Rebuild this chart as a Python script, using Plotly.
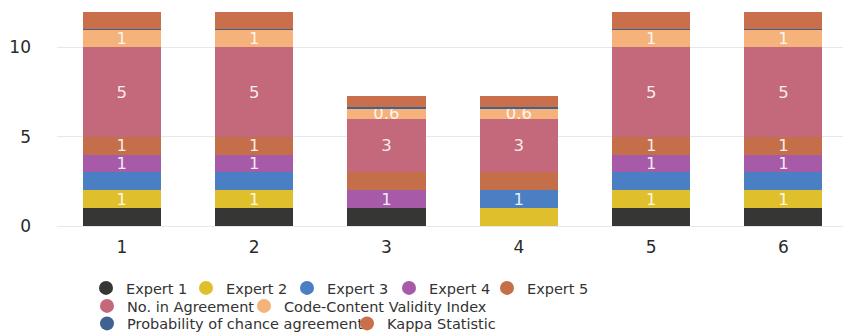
import plotly.graph_objects as go

categories = ["1", "2", "3", "4", "5", "6"]

series_names = ["Expert 1", "Expert 2", "Expert 3", "Expert 4", "Expert 5",
                "No. in Agreement", "Code-Content Validity Index",
                "Probability of chance agreement", "Kappa Statistic"]

expert1 = [1, 1, 1, 0, 1, 1]
expert2 = [1, 1, 0, 1, 1, 1]
expert3 = [1, 1, 0, 1, 1, 1]
expert4 = [1, 1, 1, 0, 1, 1]
expert5 = [1, 1, 1, 1, 1, 1]
agreement = [5, 5, 3, 3, 5, 5]
cvi = [1, 1, 0.6, 0.6, 1, 1]
chance = [0.03, 0.03, 0.08, 0.08, 0.03, 0.03]
kappa = [0.97, 0.97, 0.57, 0.57, 0.97, 0.97]

# labels shown inside segments ("" = no label)
lab_e1 = ["", "", "", "", "", ""]
lab_e2 = ["1", "1", "", "", "1", "1"]
lab_e3 = ["", "", "", "1", "", ""]
lab_e4 = ["1", "1", "1", "", "1", "1"]
lab_e5 = ["1", "1", "", "", "1", "1"]
lab_agr = ["5", "5", "3", "3", "5", "5"]
lab_cvi = ["1", "1", "0.6", "0.6", "1", "1"]
lab_pc = ["", "", "", "", "", ""]
lab_k = ["", "", "", "", "", ""]

colors = ["#363634", "#e0bf2c", "#4a7fc4", "#a75aa8", "#c46e4a",
          "#c4697c", "#f5b27a", "#3f6391", "#c96f4c"]

values = [expert1, expert2, expert3, expert4, expert5, agreement, cvi, chance, kappa]
labels = [lab_e1, lab_e2, lab_e3, lab_e4, lab_e5, lab_agr, lab_cvi, lab_pc, lab_k]

FONT = "DejaVu Sans"

fig = go.Figure()
for name, vals, labs, col in zip(series_names, values, labels, colors):
    fig.add_trace(go.Bar(
        x=categories, y=vals, name=name, text=labs,
        marker=dict(color=col, line=dict(width=0)),
        textposition="inside", insidetextanchor="middle",
        textangle=0, constraintext="none",
        textfont=dict(family=FONT, size=16.5, color="rgba(255,255,255,0.88)"),
        showlegend=False, width=0.59,
    ))

# legend entries (circle markers), split over three rows
legend_of = ["legend"] * 5 + ["legend2"] * 2 + ["legend3"] * 2
legend_w = [55, 56, 57, 53, 70, 112, 240, 215, 140]
for name, col, lg, lw in zip(series_names, colors, legend_of, legend_w):
    fig.add_trace(go.Scatter(
        x=[None], y=[None], mode="markers", name=name,
        marker=dict(color=col, size=14, symbol="circle"),
        legend=lg, legendwidth=lw, showlegend=True, hoverinfo="skip",
    ))

H = 335
leg_common = dict(orientation="h", xref="container", yref="container",
                  xanchor="left", yanchor="middle", traceorder="normal",
                  font=dict(family=FONT, size=14.5, color="#333333"),
                  bgcolor="rgba(0,0,0,0)", itemwidth=30, tracegroupgap=0)

fig.update_layout(
    width=843, height=335,
    margin=dict(l=57, r=0, t=5, b=109),
    plot_bgcolor="white", paper_bgcolor="white",
    barmode="stack",
    font=dict(family=FONT, size=16, color="#2a2a2a"),
    xaxis=dict(type="category", range=[-0.49, 5.45], showgrid=False,
               showline=False, zeroline=False, ticks="",
               ticklabelstandoff=9,
               tickfont=dict(family=FONT, size=17, color="#2a2a2a")),
    yaxis=dict(range=[0, 12.37], tickvals=[0, 5, 10], showgrid=True,
               gridcolor="#e4e9f0", gridwidth=1, zeroline=True,
               zerolinecolor="#e4e9f0", zerolinewidth=1, showline=False,
               ticks="", ticklabelstandoff=25,
               tickfont=dict(family=FONT, size=17, color="#2a2a2a")),
    legend=dict(x=86 / 843, y=1 - 288 / H, **leg_common),
    legend2=dict(x=87 / 843, y=1 - 306 / H, **leg_common),
    legend3=dict(x=87 / 843, y=1 - 323.5 / H, **leg_common),
)

fig.write_html("out.html")
